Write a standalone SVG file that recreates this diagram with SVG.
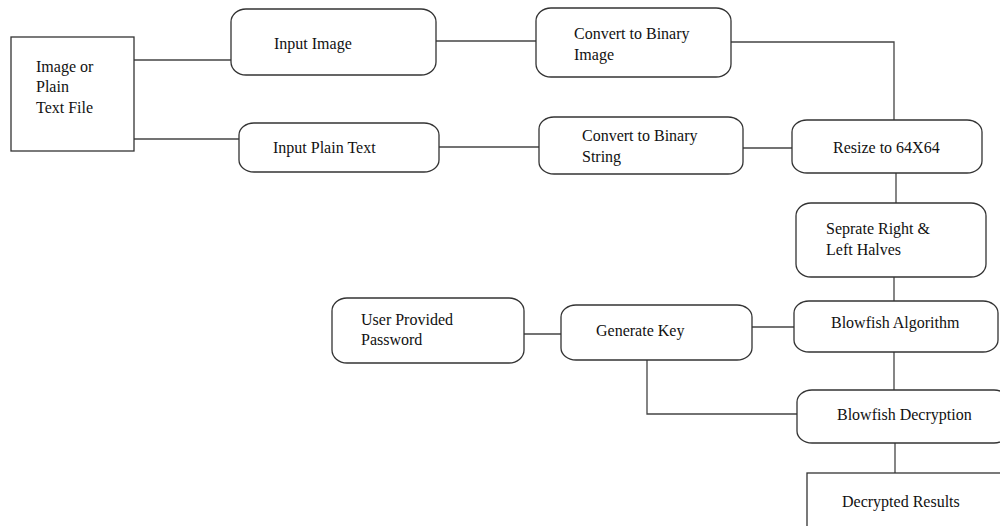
<svg xmlns="http://www.w3.org/2000/svg" width="1000" height="526" viewBox="0 0 1000 526">
<style>
.box{fill:#fff;stroke:#333;stroke-width:1.3}
.rb{fill:#fff;stroke:#333;stroke-width:1.3}
.lbl{font-family:"Liberation Serif","Times New Roman",serif;font-size:16px;fill:#111}
.con{fill:none;stroke:#444;stroke-width:1.3}
</style>
<rect width="1000" height="526" fill="#fff"/>
<g id="connectors">
<path class="con" d="M134 60H231"/>
<path class="con" d="M134 139H239"/>
<path class="con" d="M436 41H536"/>
<path class="con" d="M439 147H539"/>
<path class="con" d="M731 42H894V120"/>
<path class="con" d="M743 148H792"/>
<path class="con" d="M896 173V203"/>
<path class="con" d="M894 277V301"/>
<path class="con" d="M752 327H794"/>
<path class="con" d="M524 334H561"/>
<path class="con" d="M647 360V414H797"/>
<path class="con" d="M894 352V390"/>
<path class="con" d="M895 443V473"/>
</g>
<g id="source">
<rect class="box" x="11" y="37" width="123" height="114"/>
<text class="lbl" x="36" y="72">Image or</text>
<text class="lbl" x="36" y="92">Plain</text>
<text class="lbl" x="36" y="113">Text File</text>
</g>
<g id="input-image">
<rect class="rb" x="231" y="9" width="205" height="66" rx="15" ry="13"/>
<text class="lbl" x="274" y="49">Input Image</text>
</g>
<g id="input-plain-text">
<rect class="rb" x="239" y="123" width="200" height="49" rx="15" ry="12"/>
<text class="lbl" x="273" y="153">Input Plain Text</text>
</g>
<g id="convert-binary-image">
<rect class="rb" x="536" y="8" width="195" height="69" rx="15" ry="13"/>
<text class="lbl" x="574" y="39">Convert to Binary</text>
<text class="lbl" x="574" y="60">Image</text>
</g>
<g id="convert-binary-string">
<rect class="rb" x="539" y="117" width="204" height="57" rx="15" ry="12"/>
<text class="lbl" x="582" y="141">Convert to Binary</text>
<text class="lbl" x="582" y="162">String</text>
</g>
<g id="resize">
<rect class="rb" x="792" y="120" width="190" height="53" rx="15" ry="12"/>
<text class="lbl" x="833" y="153">Resize to 64X64</text>
</g>
<g id="separate">
<rect class="rb" x="796" y="203" width="190" height="74" rx="15" ry="13"/>
<text class="lbl" x="826" y="234">Seprate Right &amp;</text>
<text class="lbl" x="826" y="255">Left Halves</text>
</g>
<g id="blowfish-algorithm">
<rect class="rb" x="794" y="301" width="204" height="51" rx="15" ry="12"/>
<text class="lbl" x="831" y="328">Blowfish Algorithm</text>
</g>
<g id="user-password">
<rect class="rb" x="332" y="298" width="192" height="65" rx="15" ry="13"/>
<text class="lbl" x="361" y="325">User Provided</text>
<text class="lbl" x="361" y="345">Password</text>
</g>
<g id="generate-key">
<rect class="rb" x="561" y="305" width="191" height="55" rx="15" ry="12"/>
<text class="lbl" x="596" y="336">Generate Key</text>
</g>
<g id="blowfish-decryption">
<rect class="rb" x="797" y="390" width="212" height="53" rx="15" ry="12"/>
<text class="lbl" x="837" y="420">Blowfish Decryption</text>
</g>
<g id="decrypted-results">
<rect class="box" x="807" y="473" width="210" height="70"/>
<text class="lbl" x="842" y="507">Decrypted Results</text>
</g>
</svg>
